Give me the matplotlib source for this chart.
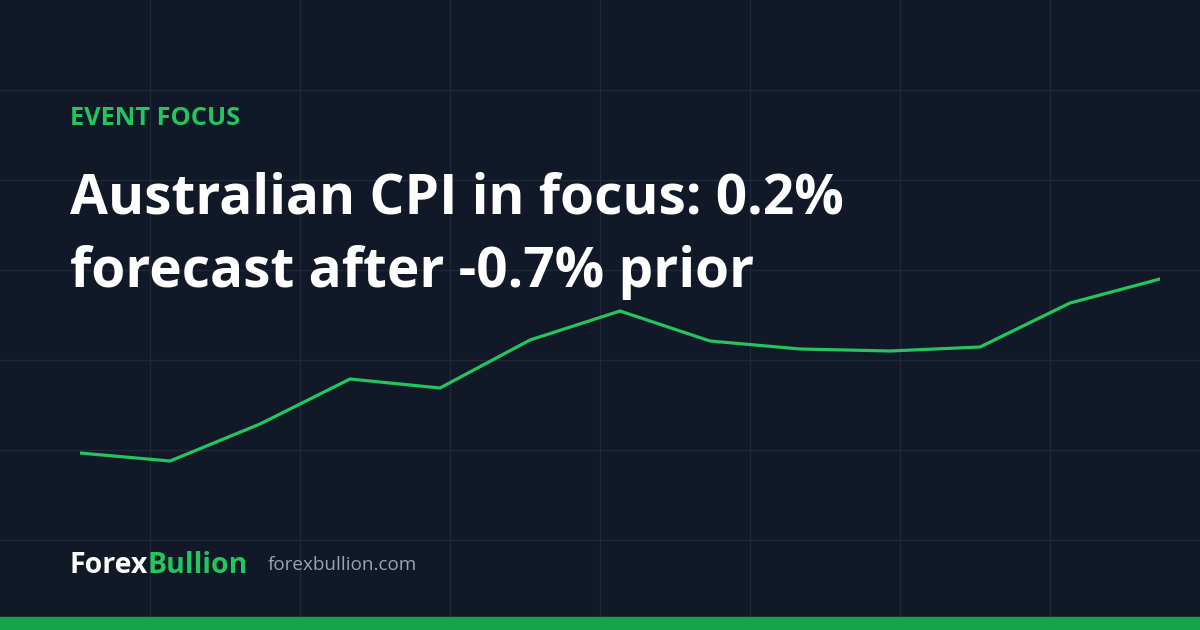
import matplotlib
matplotlib.use("Agg")
import matplotlib.pyplot as plt

# Series (index level per period)
periods = list(range(13))
cpi_index = [177, 169, 206, 251, 242, 290, 319, 289, 281, 279, 283, 327, 351]

kicker = "EVENT FOCUS"
title_lines = ["Australian CPI in focus: 0.2%", "forecast after -0.7% prior"]
brand_a = "Forex"
brand_b = "Bullion"
site = "forexbullion.com"

BG = "#111827"
GRID = "#1f2937"
GREEN = "#22c55e"
BAR = "#16a34a"

W, H = 1200, 630
fig = plt.figure(figsize=(W / 100, H / 100), dpi=100, facecolor=BG)

# background axes in pixel coordinates (y down)
bg = fig.add_axes([0, 0, 1, 1])
bg.set_xlim(0, W)
bg.set_ylim(H, 0)
bg.set_facecolor(BG)
bg.axis("off")
for gx in range(150, W, 150):
    bg.axvline(gx, color=GRID, lw=1.0, zorder=1)
for gy in range(90, H, 90):
    bg.axhline(gy, color=GRID, lw=1.0, zorder=1)

# line axes: period 0 at x=80px, period 12 at x=1160px
ax = fig.add_axes([80 / W, 0, 1080 / W, 1], facecolor="none")
ax.plot(periods, cpi_index, color=GREEN, lw=2.3, solid_joinstyle="miter", zorder=3)
ax.set_xlim(0, 12)
ax.set_ylim(0, H)
ax.axis("off")

# bottom accent bar
bg.axhspan(617, H, color=BAR, zorder=4)

font = "Open Sans"
bg.text(70, 125, kicker, color=GREEN, fontsize=18.3, fontweight="bold",
        family=font, va="baseline", ha="left", zorder=5)
bg.text(70, 213, title_lines[0], color="white", fontsize=39.6, fontweight="bold",
        family=font, va="baseline", ha="left", zorder=5)
bg.text(70, 287, title_lines[1], color="white", fontsize=39.6, fontweight="bold",
        family=font, va="baseline", ha="left", zorder=5)

t1 = bg.text(70, 573, brand_a, color="white", fontsize=20.5, fontweight="bold",
             family=font, va="baseline", ha="left", zorder=5)
fig.canvas.draw()
bb = t1.get_window_extent()
bg.text(bb.x1 - 1, H - 573, brand_b, color=GREEN, fontsize=20.5, fontweight="bold",
        family=font, va="baseline", ha="left", zorder=5, transform=None)
bg.text(268, 570, site, color="#9ca3af", fontsize=13.6, family=font,
        va="baseline", ha="left", zorder=5)

fig.savefig("out.png", dpi=100, facecolor=BG)
